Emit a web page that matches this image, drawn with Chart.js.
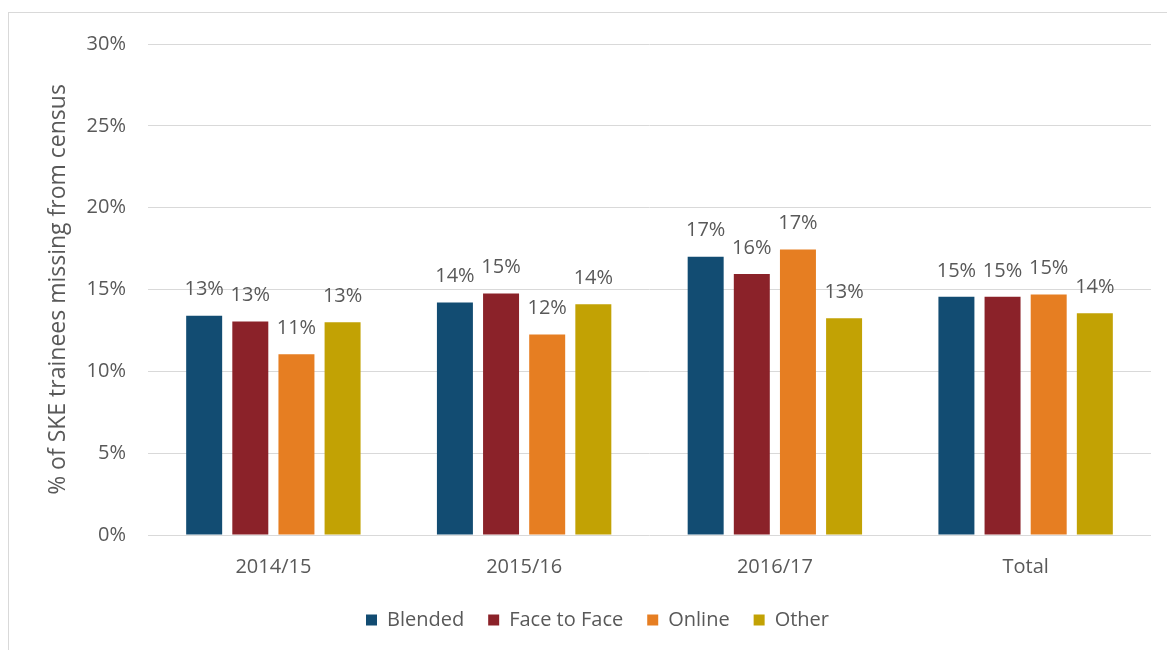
<!DOCTYPE html>
<html><head><meta charset="utf-8">
<script src="https://cdn.jsdelivr.net/npm/chart.js@4/dist/chart.umd.min.js"></script>
<style>
html,body{margin:0;padding:0;background:#fff;}
#wrap{position:relative;width:1167px;height:650px;overflow:hidden;background:#fff;}
#frame{position:absolute;left:8px;top:12px;width:1200px;height:700px;border-left:1px solid #d9d9d9;border-top:1px solid #d9d9d9;}
canvas{position:absolute;left:0;top:0;}
</style></head>
<body><div id="wrap"><div id="frame"></div><canvas id="c" width="1167" height="650"></canvas></div>
<script>
const categories = ['2014/15', '2015/16', '2016/17', 'Total'];
const seriesNames = ['Blended', 'Face to Face', 'Online', 'Other'];
const blended = [13.4, 14.2, 17.0, 14.55];
const faceToFace = [13.05, 14.75, 15.95, 14.55];
const online = [11.05, 12.25, 17.45, 14.7];
const other = [13.0, 14.1, 13.25, 13.55];
const yTicks = [0, 5, 10, 15, 20, 25, 30];
const colors = ['#124c72', '#8b2229', '#e67e22', '#c2a204'];

const FONT = "'Open Sans', 'Noto Sans', sans-serif";
const TXT = '#595959';

const valueLabels = {
  id: 'valueLabels',
  afterDatasetsDraw(chart) {
    const ctx = chart.ctx;
    ctx.save();
    ctx.font = '20px ' + FONT;
    ctx.fillStyle = TXT;
    ctx.textAlign = 'center';
    ctx.textBaseline = 'middle';
    chart.data.datasets.forEach((ds, i) => {
      const meta = chart.getDatasetMeta(i);
      meta.data.forEach((bar, j) => {
        ctx.fillText(Math.round(ds.data[j]) + '%', bar.x, bar.y - 26);
      });
    });
    ctx.restore();
  }
};

const legendShift = {
  id: 'legendShift',
  afterLayout(chart) {
    const lg = chart.legend;
    if (lg) { lg.left = 44; }
  }
};

new Chart(document.getElementById('c'), {
  type: 'bar',
  data: {
    labels: categories,
    datasets: [
      { label: seriesNames[0], data: blended, backgroundColor: colors[0] },
      { label: seriesNames[1], data: faceToFace, backgroundColor: colors[1] },
      { label: seriesNames[2], data: online, backgroundColor: colors[2] },
      { label: seriesNames[3], data: other, backgroundColor: colors[3] }
    ]
  },
  options: {
    responsive: false,
    animation: false,
    devicePixelRatio: 1,
    categoryPercentage: 0.736,
    barPercentage: 0.78,
    layout: { padding: { left: 0, right: 16, top: 44, bottom: 10 } },
    plugins: {
      legend: {
        position: 'bottom',
        labels: {
          boxWidth: 11, boxHeight: 11, padding: 24,
          color: TXT, font: { family: FONT, size: 20 }
        }
      },
      tooltip: { enabled: false }
    },
    scales: {
      x: {
        grid: { display: false },
        border: { display: false },
        ticks: { color: TXT, font: { family: FONT, size: 20 }, padding: 12 },
        afterFit(s) { s.height = 51; }
      },
      y: {
        min: 0, max: 30,
        afterBuildTicks(s) { s.ticks = yTicks.map(v => ({ value: v })); },
        grid: { color: '#d9d9d9', lineWidth: 1, drawTicks: false },
        border: { display: false },
        ticks: { color: TXT, font: { family: FONT, size: 20 }, padding: 22, callback: v => v + '%' },
        title: {
          display: true, text: '% of SKE trainees missing from census',
          color: TXT, font: { family: FONT, size: 23 }, padding: { top: 45, bottom: 0 }
        },
        afterFit(s) { s.width = 148; }
      }
    }
  },
  plugins: [valueLabels, legendShift]
});
</script>
</body></html>
